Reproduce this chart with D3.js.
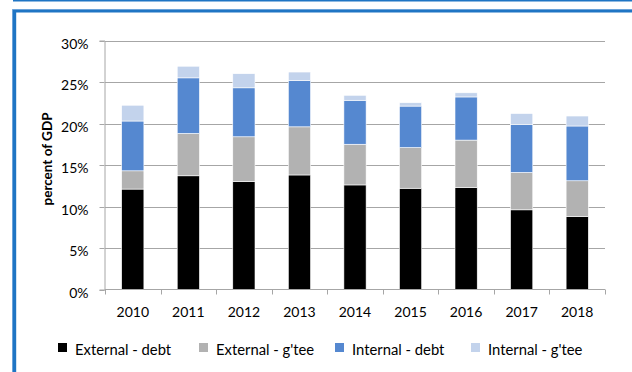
<!DOCTYPE html>
<html>
<head>
<meta charset="utf-8">
<script src="https://cdn.jsdelivr.net/npm/d3@7"></script>
<style>
  html, body { margin: 0; padding: 0; background: #fff; }
  svg { display: block; }
  text { font-family: Lato, "Open Sans", sans-serif; fill: #000; }
</style>
</head>
<body>
<script>
const years = ["2010","2011","2012","2013","2014","2015","2016","2017","2018"];
const seriesNames = ["External - debt", "External - g'tee", "Internal - debt", "Internal - g'tee"];
const externalDebt = [12.1, 13.7, 13.0, 13.8, 12.6, 12.2, 12.3, 9.6, 8.8];
const externalGtee = [2.2, 5.1, 5.4, 5.8, 4.9, 4.9, 5.7, 4.5, 4.3];
const internalDebt = [6.0, 6.7, 5.9, 5.6, 5.3, 5.0, 5.2, 5.8, 6.6];
const internalGtee = [1.9, 1.4, 1.7, 1.0, 0.6, 0.4, 0.5, 1.3, 1.2];
const yTicks = [0, 5, 10, 15, 20, 25, 30];
const yLabel = "percent of GDP";

const colors = ["#000000", "#b2b2b2", "#5588d0", "#c3d3ec"];
const W = 632, H = 372;
const svg = d3.select("body").append("svg").attr("width", W).attr("height", H);

// Frame decoration
svg.append("rect").attr("x", 13).attr("y", 0).attr("width", W - 13).attr("height", 1.5).attr("fill", "#1f75c4");
svg.append("rect").attr("x", 12).attr("y", 9).attr("width", W - 12).attr("height", 3.5).attr("fill", "#1f75c4");
svg.append("rect").attr("x", 12).attr("y", 9).attr("width", 4.2).attr("height", H - 9).attr("fill", "#1f75c4");
svg.append("rect").attr("x", 12).attr("y", 9).attr("width", W - 12).attr("height", 0.8).attr("fill", "#7fb0e0");
svg.append("rect").attr("x", 12).attr("y", 9).attr("width", 0.8).attr("height", H - 9).attr("fill", "#7fb0e0");

const x0 = 105, x1 = 605, yTop = 40.5, yBot = 289.5;
const x = d3.scaleBand().domain(years).range([x0, x1]).paddingInner(0.6).paddingOuter(0.3);
const y = d3.scaleLinear().domain([0, 30]).range([yBot, yTop]);

// gridlines
svg.append("g").selectAll("line").data(yTicks.filter(t => t > 0)).join("line")
  .attr("x1", x0).attr("x2", x1)
  .attr("y1", d => Math.round(y(d)) + 0.5).attr("y2", d => Math.round(y(d)) + 0.5)
  .attr("stroke", "#a6a6a6").attr("stroke-width", 1);

// stacked bars
const rows = years.map((yr, i) => ({
  year: yr,
  [seriesNames[0]]: externalDebt[i],
  [seriesNames[1]]: externalGtee[i],
  [seriesNames[2]]: internalDebt[i],
  [seriesNames[3]]: internalGtee[i]
}));
const stack = d3.stack().keys(seriesNames)(rows);
svg.append("g").selectAll("g").data(stack).join("g")
  .attr("fill", (d, i) => colors[i])
  .selectAll("rect").data(d => d).join("rect")
  .attr("x", d => x(d.data.year))
  .attr("width", x.bandwidth())
  .attr("y", d => y(d[1]))
  .attr("height", d => y(d[0]) - y(d[1]))
  .attr("stroke", "#ffffff").attr("stroke-width", 0.6);

// y axis
const yAxis = svg.append("g").attr("transform", `translate(${x0 - 0.5},0)`)
  .call(d3.axisLeft(y).tickValues(yTicks).tickFormat(d => d + "%").tickSize(5).tickPadding(6));
yAxis.select(".domain").attr("stroke", "#a6a6a6");
yAxis.selectAll(".tick line").attr("stroke", "#a6a6a6");
yAxis.selectAll(".tick text").attr("font-family", "Lato, sans-serif").attr("font-size", 14).attr("fill", "#000").attr("dy", "0.55em").attr("x", -16);
yAxis.selectAll(".tick").attr("transform", d => `translate(0,${Math.round(y(d)) + 0.5})`);

// x axis
const xg = svg.append("g").attr("transform", `translate(0,${yBot})`);
xg.append("line").attr("x1", x0).attr("x2", x1).attr("y1", 0).attr("y2", 0).attr("stroke", "#a6a6a6");
const bounds = years.map((d, i) => x0 + i * x.step()).concat([x1]);
xg.selectAll("line.tk").data(bounds).join("line").attr("class", "tk")
  .attr("x1", d => Math.round(d) + 0.5).attr("x2", d => Math.round(d) + 0.5)
  .attr("y1", 0).attr("y2", 5).attr("stroke", "#a6a6a6");
xg.selectAll("text").data(years).join("text")
  .attr("x", d => x(d) + x.bandwidth() / 2)
  .attr("y", 27.5)
  .attr("text-anchor", "middle").attr("font-size", 14)
  .text(d => d);

// y label
svg.append("text")
  .attr("transform", `translate(52,159) rotate(-90)`)
  .attr("text-anchor", "middle").attr("font-size", 13.5).attr("font-weight", "bold")
  .text(yLabel);

// legend
const legendX = [58, 199, 335, 471];
const lg = svg.append("g").selectAll("g").data(seriesNames).join("g")
  .attr("transform", (d, i) => `translate(${legendX[i]},343)`);
lg.append("rect").attr("width", 9).attr("height", 9).attr("fill", (d, i) => colors[i]);
lg.append("text").attr("x", 17).attr("y", 12).attr("font-size", 14.8).text(d => d);
</script>
</body>
</html>
